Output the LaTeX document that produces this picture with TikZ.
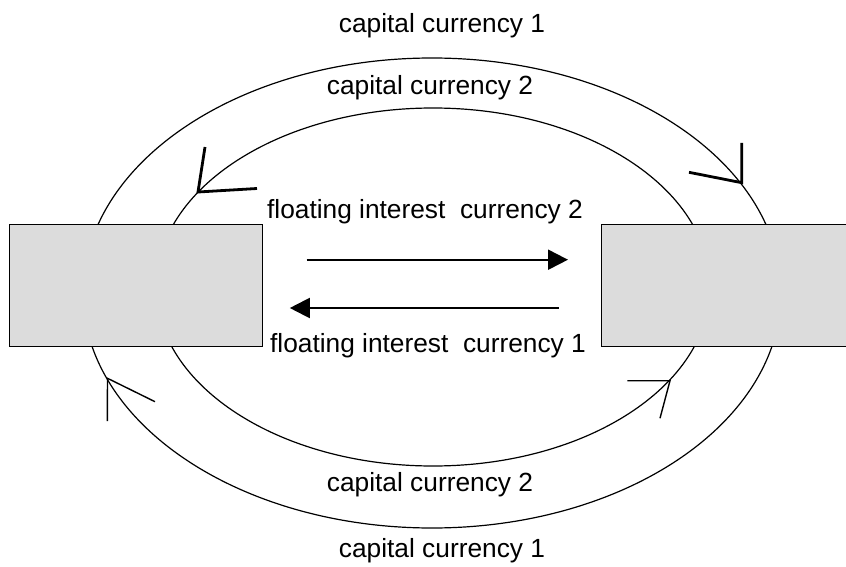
\documentclass[tikz,border=0pt]{standalone}
\usepackage{fontspec}
\setmainfont{Liberation Sans}
\usetikzlibrary{arrows.meta}
\definecolor{boxgray}{RGB}{220,220,220}
\begin{document}
\begin{tikzpicture}[x=1pt,y=-1pt,
  lbl/.style={font=\fontsize{26.3}{30}\selectfont, inner sep=0pt},
  party/.style={draw=black, fill=boxgray, line width=1.4pt, anchor=north west, inner sep=0pt},
  ring/.style={line width=1.2pt},
  tipthick/.style={line width=2.8pt},
  tipthin/.style={line width=1.4pt},
  flow/.style={line width=2pt, -{Triangle[length=20pt,width=20pt]}}]
\useasboundingbox (0,0) rectangle (846,567);
\clip (0,0) rectangle (846,567);
% rings
\draw[ring] (432,293) ellipse [x radius=349pt, y radius=235pt];
\draw[ring] (433,287) ellipse [x radius=277pt, y radius=179pt];
% parties
\node[party, minimum width=253pt, minimum height=122.5pt] (left) at (8.6,223.5) {};
\node[party, minimum width=260pt, minimum height=122.5pt] (right) at (601,223.5) {};
% ring arrowheads
\coordinate (tl) at (198,192);
\coordinate (tlA) at (205,147);
\coordinate (tlB) at (257,188.5);
\draw[tipthick] (tlA) -- (tl) -- (tlB);
\coordinate (tr) at (741.7,182.7);
\coordinate (trA) at (741.7,143);
\coordinate (trB) at (689,172.3);
\draw[tipthick] (trA) -- (tr) -- (trB);
\coordinate (bl) at (107.5,378.3);
\coordinate (blA) at (107.3,421);
\coordinate (blB) at (155,401.7);
\draw[tipthin] (blA) -- (bl) -- (blB);
\coordinate (br) at (670,380.7);
\coordinate (brA) at (627.3,380.7);
\coordinate (brB) at (660,418.3);
\draw[tipthin] (brA) -- (br) -- (brB);
% floating interest flows
\coordinate (f2s) at (306.5,259.7);
\coordinate (f2e) at (568,259.7);
\draw[flow] (f2s) -- (f2e);
\coordinate (f1s) at (558.5,308);
\coordinate (f1e) at (289.8,308);
\draw[flow] (f1s) -- (f1e);
% labels
\node[lbl] (t1) at (442,26) {capital currency 1};
\node[lbl] (t2) at (430,88) {capital currency 2};
\node[lbl] (fi2) at (425,212) {floating interest\ \ currency 2};
\node[lbl] (fi1) at (428,346) {floating interest\ \ currency 1};
\node[lbl] (b2) at (430,484.6) {capital currency 2};
\node[lbl] (b1) at (442,551) {capital currency 1};
\end{tikzpicture}
\end{document}
